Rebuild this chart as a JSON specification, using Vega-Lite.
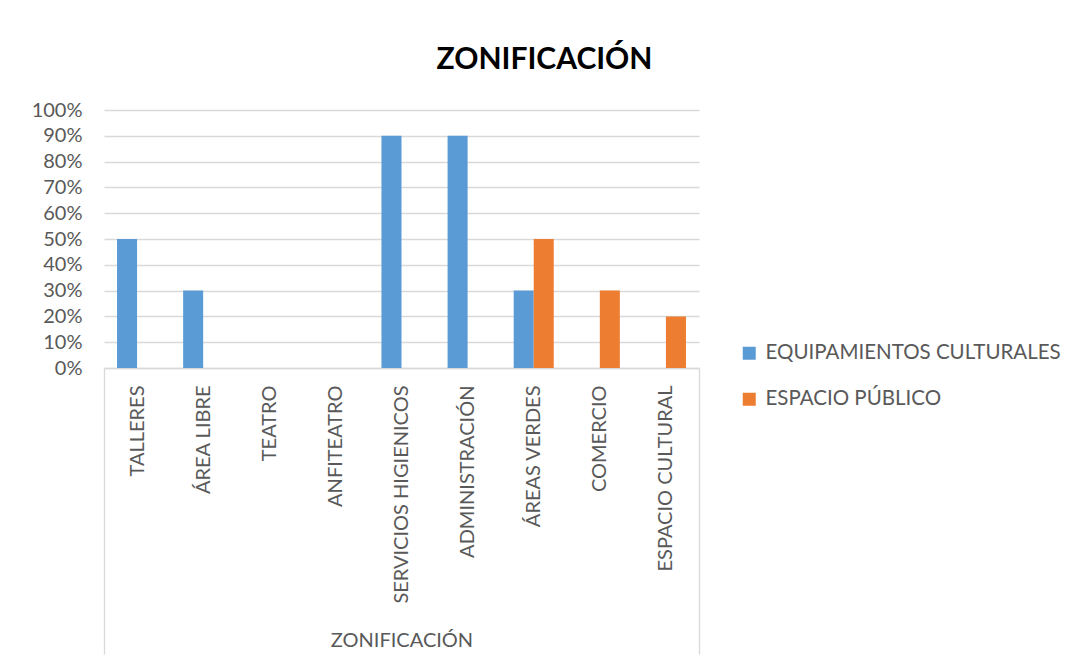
{
  "$schema": "https://vega.github.io/schema/vega-lite/v6.json",
  "autosize": {"type": "none"},
  "width": 595,
  "height": 258,
  "padding": {"left": 104, "top": 110, "right": 373, "bottom": 293},
  "background": "white",
  "title": {
    "text": "ZONIFICACIÓN",
    "font": "Lato",
    "fontSize": 30,
    "fontWeight": "bold",
    "color": "#000000",
    "anchor": "middle",
    "frame": "group",
    "dx": 143,
    "baseline": "alphabetic",
    "offset": 1
  },
  "data": {
    "values": [
      {"zona": "TALLERES", "serie": "EQUIPAMIENTOS CULTURALES", "valor": 0.5},
      {"zona": "TALLERES", "serie": "ESPACIO PÚBLICO", "valor": 0},
      {"zona": "ÁREA LIBRE", "serie": "EQUIPAMIENTOS CULTURALES", "valor": 0.3},
      {"zona": "ÁREA LIBRE", "serie": "ESPACIO PÚBLICO", "valor": 0},
      {"zona": "TEATRO", "serie": "EQUIPAMIENTOS CULTURALES", "valor": 0},
      {"zona": "TEATRO", "serie": "ESPACIO PÚBLICO", "valor": 0},
      {"zona": "ANFITEATRO", "serie": "EQUIPAMIENTOS CULTURALES", "valor": 0},
      {"zona": "ANFITEATRO", "serie": "ESPACIO PÚBLICO", "valor": 0},
      {"zona": "SERVICIOS HIGIENICOS", "serie": "EQUIPAMIENTOS CULTURALES", "valor": 0.9},
      {"zona": "SERVICIOS HIGIENICOS", "serie": "ESPACIO PÚBLICO", "valor": 0},
      {"zona": "ADMINISTRACIÓN", "serie": "EQUIPAMIENTOS CULTURALES", "valor": 0.9},
      {"zona": "ADMINISTRACIÓN", "serie": "ESPACIO PÚBLICO", "valor": 0},
      {"zona": "ÁREAS VERDES", "serie": "EQUIPAMIENTOS CULTURALES", "valor": 0.3},
      {"zona": "ÁREAS VERDES", "serie": "ESPACIO PÚBLICO", "valor": 0.5},
      {"zona": "COMERCIO", "serie": "EQUIPAMIENTOS CULTURALES", "valor": 0},
      {"zona": "COMERCIO", "serie": "ESPACIO PÚBLICO", "valor": 0.3},
      {"zona": "ESPACIO CULTURAL", "serie": "EQUIPAMIENTOS CULTURALES", "valor": 0},
      {"zona": "ESPACIO CULTURAL", "serie": "ESPACIO PÚBLICO", "valor": 0.2}
    ]
  },
  "mark": {"type": "bar"},
  "encoding": {
    "x": {
      "field": "zona",
      "type": "nominal",
      "scale": {
        "domain": ["TALLERES", "ÁREA LIBRE", "TEATRO", "ANFITEATRO", "SERVICIOS HIGIENICOS", "ADMINISTRACIÓN", "ÁREAS VERDES", "COMERCIO", "ESPACIO CULTURAL"],
        "paddingInner": 0,
        "paddingOuter": 0
      },
      "axis": {
        "title": "ZONIFICACIÓN",
        "titleFont": "Lato",
        "titleFontSize": 20,
        "titleFontWeight": "normal",
        "titleColor": "#595959",
        "titleY": 272,
        "titleBaseline": "middle",
        "labelAngle": -90,
        "labelFont": "Lato",
        "labelFontSize": 20,
        "labelColor": "#595959",
        "labelLimit": 0,
        "labelPadding": -269,
        "domainColor": "#D9D9D9",
        "domainWidth": 1.3,
        "tickBand": "extent",
        "tickSize": 286,
        "tickWidth": 1.3,
        "tickColor": {"condition": {"test": "datum.extra || datum.value === 'ESPACIO CULTURAL'", "value": "#D9D9D9"}, "value": "transparent"}
      }
    },
    "xOffset": {
      "field": "serie",
      "type": "nominal",
      "scale": {"domain": ["EQUIPAMIENTOS CULTURALES", "ESPACIO PÚBLICO"], "paddingInner": 0, "paddingOuter": 0.65}
    },
    "y": {
      "field": "valor",
      "type": "quantitative",
      "scale": {"domain": [0, 1], "nice": false},
      "axis": {
        "title": null,
        "format": ".0%",
        "values": [0, 0.1, 0.2, 0.3, 0.4, 0.5, 0.6, 0.7, 0.8, 0.9, 1],
        "labelFont": "Lato",
        "labelFontSize": 20,
        "labelColor": "#595959",
        "labelPadding": 22,
        "ticks": false,
        "domain": false,
        "gridColor": "#D9D9D9",
        "gridWidth": 1.3
      }
    },
    "color": {
      "field": "serie",
      "type": "nominal",
      "scale": {"domain": ["EQUIPAMIENTOS CULTURALES", "ESPACIO PÚBLICO"], "range": ["#5B9BD5", "#ED7D31"]},
      "legend": {
        "title": null,
        "orient": "none",
        "legendX": 635,
        "legendY": 233,
        "padding": 0,
        "symbolType": "square",
        "symbolSize": 169,
        "symbolStrokeWidth": 0,
        "labelFont": "Lato",
        "labelFontSize": 20.5,
        "labelColor": "#595959",
        "labelOffset": 6,
        "labelLimit": 0,
        "rowPadding": 25
      }
    }
  },
  "config": {"view": {"stroke": null}}
}
